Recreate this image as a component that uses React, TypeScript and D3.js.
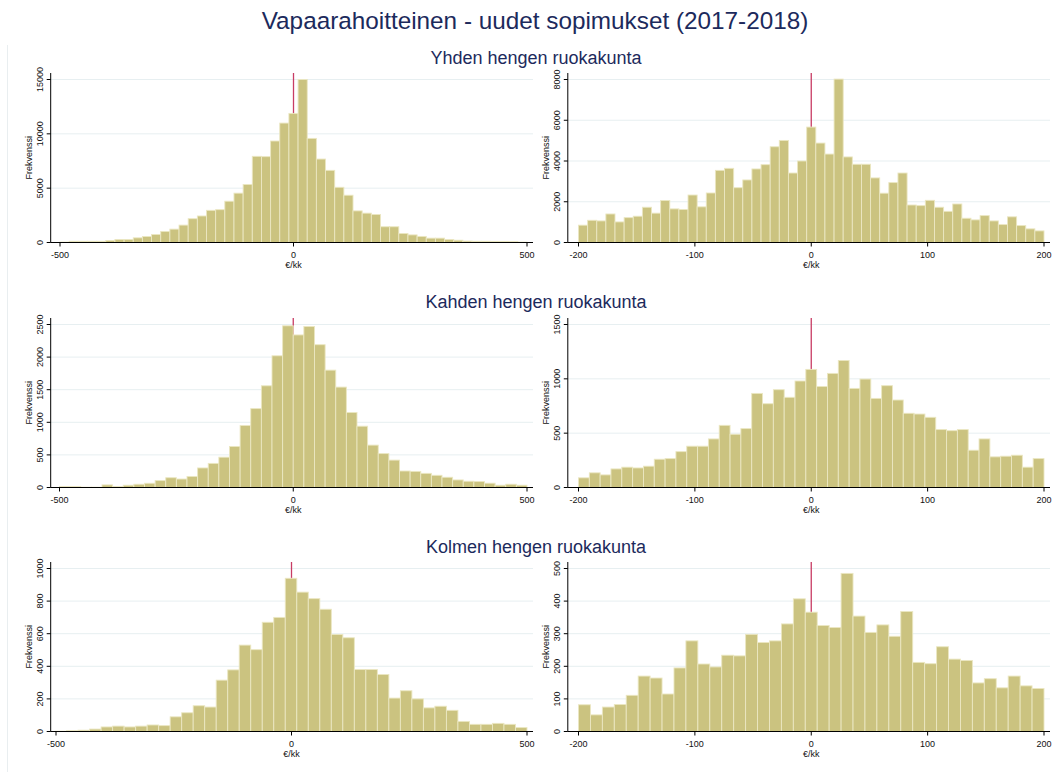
import React from "react";
import * as d3 from "d3";

// ---------- text ----------
const mainTitle = "Vapaarahoitteinen - uudet sopimukset (2017-2018)";
const rowTitles = ["Yhden hengen ruokakunta", "Kahden hengen ruokakunta", "Kolmen hengen ruokakunta"];
const yAxisTitle = "Frekvenssi";
const xAxisTitle = "€/kk";

// ---------- x ticks ----------
const wideXTicks = [-500, 0, 500];
const narrowXTicks = [-200, -100, 0, 100, 200];

// ---------- Yhden hengen ruokakunta ----------
const yhdenWideRange = [-500, 500];
const yhdenWideCounts = [40, 110, 110, 110, 110, 190, 280, 280, 430, 550, 740, 1020, 1230, 1600, 2190, 2440, 2960, 3020, 3800, 4540, 5340, 7930, 7900, 9340, 10990, 11880, 15000, 9580, 7680, 6640, 5080, 4350, 2910, 2700, 2580, 1450, 1450, 830, 700, 560, 400, 400, 270, 210, 130, 110, 110, 100, 100, 80, 40];
const yhdenWideYTicks = [0, 5000, 10000, 15000];

const yhdenNarrowRange = [-200, 200];
const yhdenNarrowCounts = [850, 1090, 1060, 1400, 1010, 1220, 1290, 1730, 1440, 2060, 1650, 1620, 2330, 1750, 2430, 3540, 3640, 2690, 3070, 3610, 3820, 4700, 5010, 3410, 4000, 5665, 4880, 4340, 8020, 4200, 3840, 3840, 3170, 2420, 2940, 3410, 1840, 1810, 2070, 1730, 1530, 1890, 1190, 1110, 1320, 1060, 880, 1260, 830, 670, 570];
const yhdenNarrowYTicks = [0, 2000, 4000, 6000, 8000];

// ---------- Kahden hengen ruokakunta ----------
const kahdenWideRange = [-500, 500];
const kahdenWideCounts = [15, 15, 5, 5, 40, 15, 35, 50, 65, 106, 150, 130, 170, 300, 370, 465, 630, 950, 1210, 1560, 2020, 2480, 2340, 2470, 2190, 1800, 1540, 1150, 940, 650, 520, 420, 253, 247, 217, 187, 157, 116, 96, 91, 66, 35, 50, 35];
const kahdenWideYTicks = [0, 500, 1000, 1500, 2000, 2500];

const kahdenNarrowRange = [-200, 200];
const kahdenNarrowCounts = [89, 135, 116, 171, 187, 180, 196, 260, 266, 330, 380, 380, 447, 572, 490, 542, 866, 771, 900, 830, 980, 1087, 930, 1050, 1169, 912, 998, 820, 937, 805, 683, 676, 646, 533, 523, 533, 343, 447, 282, 288, 297, 187, 266];
const kahdenNarrowYTicks = [0, 500, 1000, 1500];

// ---------- Kolmen hengen ruokakunta ----------
const kolmenWideRange = [-502, 500];
const kolmenWideCounts = [2, 5, 8, 15, 28, 33, 28, 33, 40, 36, 90, 115, 158, 150, 315, 378, 530, 502, 670, 700, 940, 855, 815, 750, 595, 575, 380, 380, 350, 205, 250, 200, 145, 155, 130, 62, 44, 44, 50, 44, 24];
const kolmenWideYTicks = [0, 200, 400, 600, 800, 1000];

const kolmenNarrowRange = [-200, 200];
const kolmenNarrowCounts = [82, 51, 75, 83, 111, 170, 164, 115, 195, 278, 207, 198, 234, 232, 298, 273, 278, 330, 407, 366, 325, 319, 485, 354, 304, 327, 292, 368, 212, 208, 260, 222, 218, 149, 162, 134, 170, 140, 132];
const kolmenNarrowYTicks = [0, 100, 200, 300, 400, 500];

// ---------- style / layout ----------
const W = 1054;
const H = 772;
const FONT = "'Liberation Sans', Arial, sans-serif";
const TITLE_COLOR = "#1c2a5c";
const BAR_FILL = "#cbc380";
const BAR_STROKE = "#ebe7c2";
const GRID = "#e7eff1";
const REF_LINE = "#c83c64";
const FRAME = "#e9eef0";

const titleCenterX = 535;
const rowBaselines = [242.5, 487.5, 731.5];
const rowTitleY = [64, 308, 553];
const plotTopOffset = 169.5;
const topTickOffset = 163;

const leftCol = { axisX: 50.7, endX: 533, tickPx: [[60, 527], [59.5, 527], [56, 527]] };
const rightCol = { axisX: 567.8, endX: 1050, tickPx: [[578.5, 1044], [578.5, 1044], [578.5, 1044]] };

type PanelDef = {
  range: number[];
  counts: number[];
  yTicks: number[];
  xTicks: number[];
};

const panels: PanelDef[][] = [
  [
    { range: yhdenWideRange, counts: yhdenWideCounts, yTicks: yhdenWideYTicks, xTicks: wideXTicks },
    { range: yhdenNarrowRange, counts: yhdenNarrowCounts, yTicks: yhdenNarrowYTicks, xTicks: narrowXTicks },
  ],
  [
    { range: kahdenWideRange, counts: kahdenWideCounts, yTicks: kahdenWideYTicks, xTicks: wideXTicks },
    { range: kahdenNarrowRange, counts: kahdenNarrowCounts, yTicks: kahdenNarrowYTicks, xTicks: narrowXTicks },
  ],
  [
    { range: kolmenWideRange, counts: kolmenWideCounts, yTicks: kolmenWideYTicks, xTicks: wideXTicks },
    { range: kolmenNarrowRange, counts: kolmenNarrowCounts, yTicks: kolmenNarrowYTicks, xTicks: narrowXTicks },
  ],
];

function Panel({ def, row, col }: { def: PanelDef; row: number; col: number }) {
  const c = col === 0 ? leftCol : rightCol;
  const baseline = rowBaselines[row];
  const plotTop = baseline - plotTopOffset;
  const xTicks = def.xTicks;
  const x = d3
    .scaleLinear()
    .domain([xTicks[0], xTicks[xTicks.length - 1]])
    .range(c.tickPx[row]);
  const topTick = def.yTicks[def.yTicks.length - 1];
  const y = d3.scaleLinear().domain([0, topTick]).range([baseline, baseline - topTickOffset]);
  const n = def.counts.length;
  const w = (def.range[1] - def.range[0]) / n;
  const bins = def.counts.map((v, i) => ({ x0: def.range[0] + i * w, x1: def.range[0] + (i + 1) * w, v }));
  const midY = (plotTop + baseline) / 2;

  return (
    <g>
      {def.yTicks
        .filter((t) => t > 0)
        .map((t) => (
          <line key={"g" + t} x1={c.axisX} x2={c.endX} y1={y(t)} y2={y(t)} stroke={GRID} strokeWidth={1} />
        ))}
      <line x1={x(0)} x2={x(0)} y1={plotTop} y2={baseline} stroke={REF_LINE} strokeWidth={1.3} />
      {bins.map((b, i) => (
        <rect
          key={i}
          x={x(b.x0)}
          y={y(b.v)}
          width={x(b.x1) - x(b.x0)}
          height={baseline - y(b.v)}
          fill={BAR_FILL}
          stroke={BAR_STROKE}
          strokeWidth={0.9}
        />
      ))}
      <line x1={c.axisX} x2={c.axisX} y1={plotTop} y2={baseline} stroke="#000" strokeWidth={1} />
      {def.yTicks.map((t) => (
        <g key={"y" + t}>
          <line x1={c.axisX - 4} x2={c.axisX} y1={y(t)} y2={y(t)} stroke="#000" strokeWidth={1} />
          <text
            transform={`translate(${c.axisX - 8},${y(t)}) rotate(-90)`}
            textAnchor="middle"
            fontSize={9}
            fontFamily={FONT}
            fill="#111"
          >
            {t}
          </text>
        </g>
      ))}
      <text
        transform={`translate(${c.axisX - 18.5},${midY}) rotate(-90)`}
        textAnchor="middle"
        fontSize={9}
        fontFamily={FONT}
        fill="#111"
      >
        {yAxisTitle}
      </text>
      <line x1={c.axisX} x2={c.endX} y1={baseline} y2={baseline} stroke="#000" strokeWidth={1} />
      {xTicks.map((t) => (
        <g key={"x" + t}>
          <line x1={x(t)} x2={x(t)} y1={baseline} y2={baseline + 4} stroke="#000" strokeWidth={1} />
          <text x={x(t)} y={baseline + 15} textAnchor="middle" fontSize={9} fontFamily={FONT} fill="#111">
            {t}
          </text>
        </g>
      ))}
      <text x={x(0)} y={baseline + 25} textAnchor="middle" fontSize={9} fontFamily={FONT} fill="#111">
        {xAxisTitle}
      </text>
    </g>
  );
}

export default function App() {
  return (
    <svg
      width={W}
      height={H}
      style={{ position: "absolute", left: 0, top: 0, background: "#fff" }}
      xmlns="http://www.w3.org/2000/svg"
    >
      <rect x={0} y={0} width={W} height={H} fill="#fff" />
      <line x1={7.5} x2={7.5} y1={45} y2={H} stroke={FRAME} strokeWidth={1} />
      <text x={titleCenterX} y={28.5} textAnchor="middle" fontSize={24.3} fontFamily={FONT} fill={TITLE_COLOR}>
        {mainTitle}
      </text>
      {rowTitles.map((t, r) => (
        <text
          key={t}
          x={titleCenterX + 1}
          y={rowTitleY[r]}
          textAnchor="middle"
          fontSize={18}
          fontFamily={FONT}
          fill={TITLE_COLOR}
        >
          {t}
        </text>
      ))}
      {panels.map((row, r) => row.map((def, ci) => <Panel key={r + "-" + ci} def={def} row={r} col={ci} />))}
    </svg>
  );
}
